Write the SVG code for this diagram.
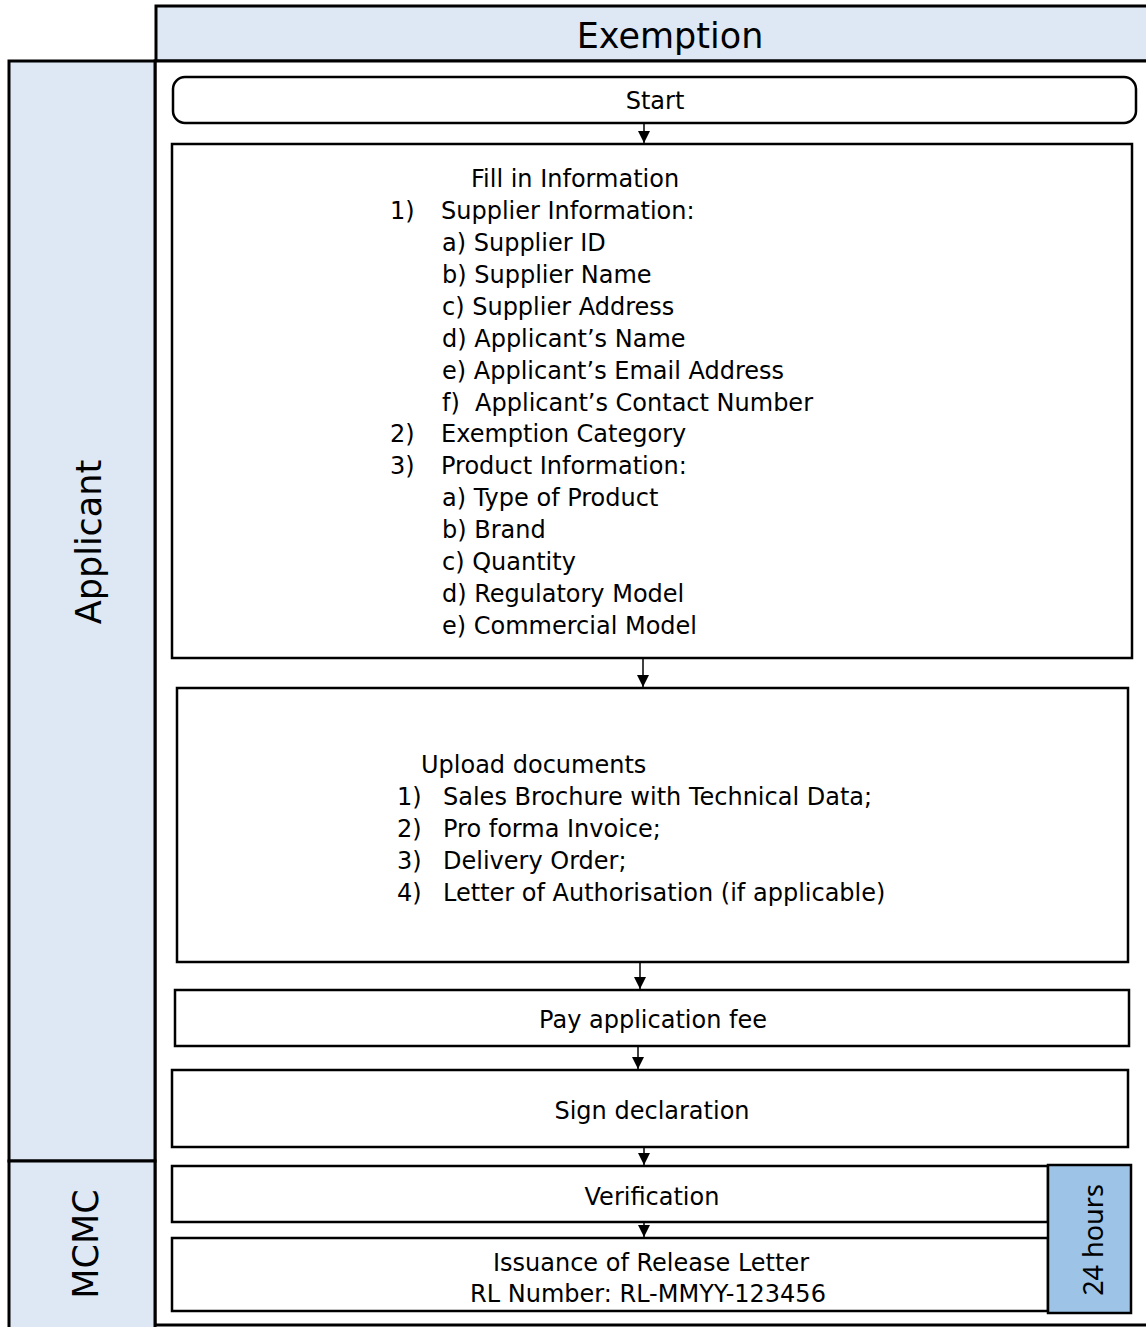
<svg xmlns="http://www.w3.org/2000/svg" width="1146" height="1327" viewBox="0 0 1146 1327">
<style>
text{font-family:"DejaVu Sans","Verdana",sans-serif;fill:#000;}
.t{font-size:24px;}
.lane{fill:#dde8f4;stroke:#000;stroke-width:3;}
.box{fill:#fff;stroke:#000;stroke-width:2.5;}
.con{stroke:#000;stroke-width:1.5;fill:none;marker-end:url(#ah);}
.big{font-size:35px;}
</style>
<defs>
<marker id="ah" viewBox="0 0 10 10" refX="10" refY="5" markerWidth="12" markerHeight="13" markerUnits="userSpaceOnUse" orient="auto">
<path d="M0,0 L10,5 L0,10 z" fill="#000"/>
</marker>
</defs>
<rect width="1146" height="1327" fill="#fff"/>
<g id="pool">
<rect x="156" y="6" width="1000" height="55" class="lane"/>
<text x="670" y="48" class="big" text-anchor="middle">Exemption</text>
<rect x="155" y="61" width="1000" height="1264" fill="#fff" stroke="#000" stroke-width="3"/>
</g>
<g id="lane-applicant">
<rect x="9" y="61" width="146" height="1100" class="lane"/>
<text transform="translate(101,542) rotate(-90)" class="big" text-anchor="middle">Applicant</text>
</g>
<g id="lane-mcmc">
<rect x="9" y="1161" width="146" height="170" class="lane"/>
<text transform="translate(98,1244) rotate(-90)" class="big" text-anchor="middle">MCMC</text>
</g>
<g id="connectors">
<line x1="644" y1="123" x2="644" y2="143" class="con"/>
<line x1="643" y1="658" x2="643" y2="687" class="con"/>
<line x1="640" y1="962" x2="640" y2="989" class="con"/>
<line x1="638" y1="1046" x2="638" y2="1069" class="con"/>
<line x1="644" y1="1147" x2="644" y2="1165" class="con"/>
<line x1="644" y1="1222" x2="644" y2="1237" class="con"/>
</g>
<g id="start">
<rect x="173" y="77" width="963" height="46" rx="12" class="box"/>
<text x="655" y="109" class="t" text-anchor="middle">Start</text>
</g>
<g id="fill-info">
<rect x="172" y="144" width="960" height="514" class="box"/>
<text class="t">
<tspan x="471" y="187">Fill in Information</tspan>
<tspan x="390" y="219">1)</tspan><tspan x="441" y="219">Supplier Information:</tspan>
<tspan x="442" y="251">a) Supplier ID</tspan>
<tspan x="442" y="283">b) Supplier Name</tspan>
<tspan x="442" y="315">c) Supplier Address</tspan>
<tspan x="442" y="347">d) Applicant’s Name</tspan>
<tspan x="442" y="379">e) Applicant’s Email Address</tspan>
<tspan x="442" y="411">f)&#160;&#160;Applicant’s Contact Number</tspan>
<tspan x="390" y="442">2)</tspan><tspan x="441" y="442">Exemption Category</tspan>
<tspan x="390" y="474">3)</tspan><tspan x="441" y="474">Product Information:</tspan>
<tspan x="442" y="506">a) Type of Product</tspan>
<tspan x="442" y="538">b) Brand</tspan>
<tspan x="442" y="570">c) Quantity</tspan>
<tspan x="442" y="602">d) Regulatory Model</tspan>
<tspan x="442" y="634">e) Commercial Model</tspan>
</text>
</g>
<g id="upload">
<rect x="177" y="688" width="951" height="274" class="box"/>
<text class="t">
<tspan x="421" y="773">Upload documents</tspan>
<tspan x="397" y="805">1)</tspan><tspan x="443" y="805">Sales Brochure with Technical Data;</tspan>
<tspan x="397" y="837">2)</tspan><tspan x="443" y="837">Pro forma Invoice;</tspan>
<tspan x="397" y="869">3)</tspan><tspan x="443" y="869">Delivery Order;</tspan>
<tspan x="397" y="901">4)</tspan><tspan x="443" y="901">Letter of Authorisation (if applicable)</tspan>
</text>
</g>
<g id="pay">
<rect x="175" y="990" width="954" height="56" class="box"/>
<text x="653" y="1028" class="t" text-anchor="middle">Pay application fee</text>
</g>
<g id="sign">
<rect x="172" y="1070" width="956" height="77" class="box"/>
<text x="652" y="1119" class="t" text-anchor="middle">Sign declaration</text>
</g>
<g id="verification">
<rect x="172" y="1166" width="876" height="56" class="box"/>
<text x="652" y="1205" class="t" text-anchor="middle">Verification</text>
</g>
<g id="issuance">
<rect x="172" y="1238" width="876" height="73" class="box"/>
<text x="651" y="1271" class="t" text-anchor="middle">Issuance of Release Letter</text>
<text x="648" y="1302" class="t" text-anchor="middle">RL Number: RL-MMYY-123456</text>
</g>
<g id="hours">
<rect x="1048" y="1165" width="83" height="148" fill="#9dc3e6" stroke="#000" stroke-width="2.5"/>
<text transform="translate(1103,1240) rotate(-90)" font-size="27" style="font-family:'Noto Sans',sans-serif" text-anchor="middle">24 hours</text>
</g>
</svg>
